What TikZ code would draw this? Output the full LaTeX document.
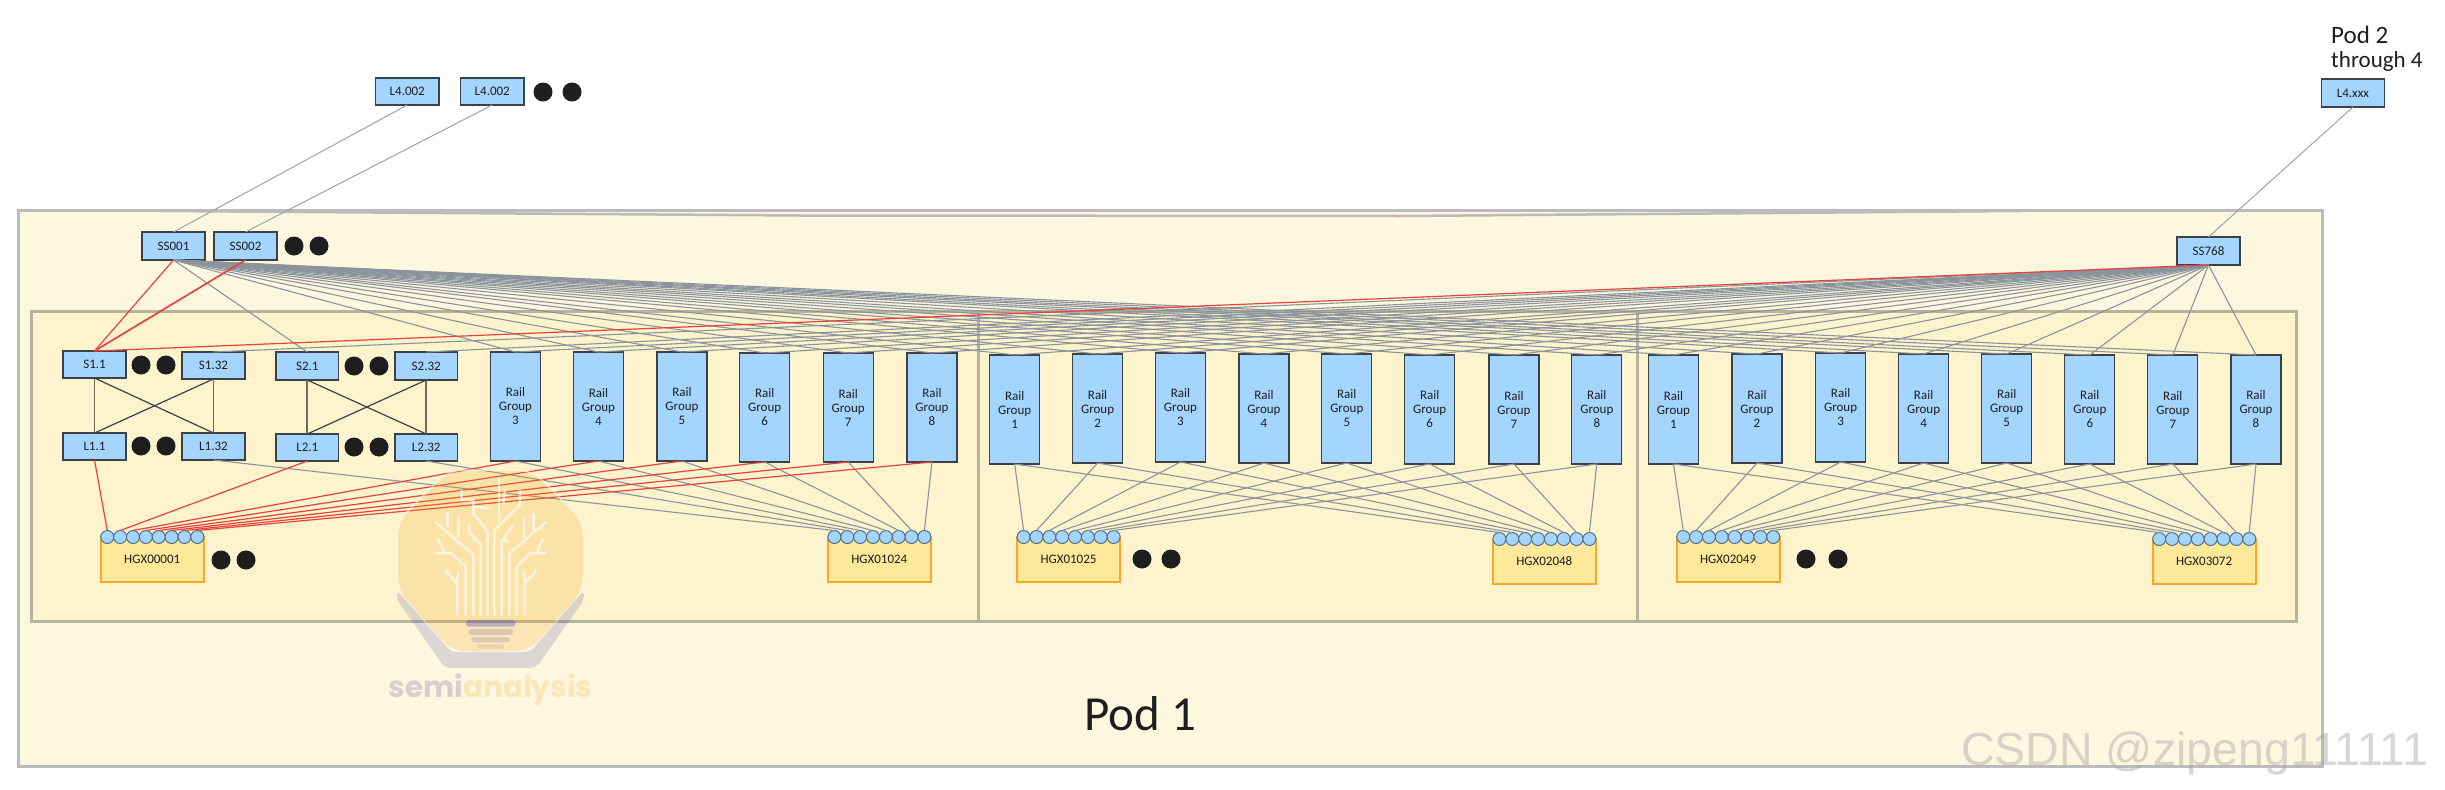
\documentclass[tikz,border=0pt]{standalone}
\usepackage{fontspec}
\setmainfont{Carlito}
\newfontfamily\logofont{Poppins}
\newfontfamily\markfont{Liberation Sans}
\definecolor{outerfill}{HTML}{FEF7DF}
\definecolor{outerline}{HTML}{BBBBBB}
\definecolor{innerfill}{HTML}{FDF3CC}
\definecolor{innerline}{HTML}{B7B29C}
\definecolor{nodeblue}{HTML}{A3D5FF}
\definecolor{nodeline}{HTML}{3A4248}
\definecolor{gpuyellow}{HTML}{FEE899}
\definecolor{gpuline}{HTML}{F9A62B}
\definecolor{wiregrey}{HTML}{8B949C}
\definecolor{wirered}{HTML}{E8423F}
\definecolor{ink}{HTML}{1E1E1E}
\definecolor{linkbrown}{HTML}{6E6A5C}
\definecolor{portline}{HTML}{52708A}
\definecolor{logoorange}{HTML}{F5A623}
\tikzset{
  podbox/.style={draw=outerline,fill=outerfill,line width=3pt},
  planebox/.style={draw=innerline,fill=innerfill,line width=3pt},
  bluebox/.style={draw=nodeline,fill=nodeblue,line width=1.2pt,inner sep=0pt,outer sep=0pt,text=ink,font=\fontsize{13}{14}\selectfont,align=center},
  railbox/.style={bluebox,minimum width=50pt,minimum height=109pt,anchor=north west},
  gpubox/.style={draw=gpuline,fill=gpuyellow,line width=2pt,inner sep=0pt,outer sep=0pt,minimum width=103pt,minimum height=45pt,anchor=north west,text=ink,font=\fontsize{13}{14}\selectfont},
  portdot/.style={circle,draw=portline,fill=nodeblue,line width=1pt,minimum size=13pt,inner sep=0pt,outer sep=0pt},
  blackdot/.style={circle,fill=ink,minimum size=19pt,inner sep=0pt},
  greywire/.style={draw=wiregrey,line width=1.1pt},
  uplink/.style={draw=wiregrey!85!white,line width=1pt},
  redwire/.style={draw=wirered,line width=1.2pt},
  crosswire/.style={draw=nodeline,line width=1.2pt},
  sidewire/.style={draw=linkbrown,line width=1.8pt},
  hand/.style={text=ink,inner sep=0pt,align=left},
  treeline/.style={draw=white,line width=2.6pt,opacity=.62,line join=round},
}
\newcommand{\pbox}[6]{%
  \pgfmathsetmacro{\pcx}{(#2+#4)/2}\pgfmathsetmacro{\pcy}{(#3+#5)/2}%
  \pgfmathsetmacro{\pw}{#4-#2}\pgfmathsetmacro{\ph}{#5-#3}%
  \node[bluebox,minimum width=\pw pt,minimum height=\ph pt] (#1) at (\pcx,\pcy) {#6};}
\newcommand{\hgx}[4]{%
  \node[gpubox] (#1) at (#2,#3) {#4};
  \foreach \pk in {1,...,8}{
    \pgfmathsetmacro{\ppx}{#2+6.6+12.86*(\pk-1)}
    \node[portdot] (#1c\pk) at (\ppx,#3) {};
  }}
\begin{document}
\begin{tikzpicture}[x=1pt,y=-1pt]
\useasboundingbox (0,0) rectangle (2445,790);
\fill[white] (0,0) rectangle (2445,790);
% pod and planes
\draw[podbox] (18,210) rectangle (2322,766);
\draw[outerline,line width=2.5pt] (160,211) -- (800,215.5) -- (1400,216) -- (2020,211);
\draw[planebox] (31,311) rectangle (978,621);
\draw[planebox] (978,311) rectangle (1637,621);
\draw[planebox] (1637,311) rectangle (2296,621);
% top nodes
\pbox{Lfa}{375.5}{78}{439}{105}{L4.002}
\pbox{Lfb}{460.5}{78}{524}{105}{L4.002}
\pbox{Lfx}{2321.5}{79}{2384.5}{107}{L4.xxx}
\pbox{SSa}{142}{232}{205}{260}{SS001}
\pbox{SSb}{214}{232}{277}{260}{SS002}
\pbox{SSz}{2177}{237}{2240}{265}{SS768}
% leaf / spine
\pbox{Sa}{63}{351}{126}{378}{S1.1}
\pbox{Sb}{182}{352}{245}{379}{S1.32}
\pbox{Sc}{276}{352}{338.5}{380}{S2.1}
\pbox{Sd}{395}{352}{457.5}{380}{S2.32}
\pbox{La}{63}{433}{126}{460}{L1.1}
\pbox{Lb}{182}{433}{245}{460}{L1.32}
\pbox{Lc}{276}{434}{338.5}{461}{L2.1}
\pbox{Ld}{395}{434}{457.5}{461}{L2.32}
% rail groups
\foreach \rn/\rx/\ry in {3/490.5/352,4/573.5/352,5/657/352,6/739.7/353,7/823.2/353,8/907/353}
  \node[railbox] (ar\rn) at (\rx,\ry) {Rail\\Group\\\rn};
\foreach \rn/\rx/\ry in {1/989.7/355,2/1072.6/354,3/1155.5/353,4/1239/354,5/1321.8/354,6/1404.7/355,7/1489/355,8/1571.8/355}
  \node[railbox] (br\rn) at (\rx,\ry) {Rail\\Group\\\rn};
\foreach \rn/\rx/\ry in {1/1648.5/355,2/1732/354,3/1815.6/353,4/1898.6/354,5/1981.7/354,6/2064.8/355,7/2147.8/355,8/2231/355}
  \node[railbox] (cr\rn) at (\rx,\ry) {Rail\\Group\\\rn};
% HGX
\hgx{ha}{100.7}{537}{HGX00001}
\hgx{hb}{827.8}{537}{HGX01024}
\hgx{hc}{1017}{537}{HGX01025}
\hgx{hd}{1492.8}{539}{HGX02048}
\hgx{he}{1676.6}{537}{HGX02049}
\hgx{hf}{2152.6}{539}{HGX03072}
% black dots
\foreach \dn/\dx/\dy in {a/543/92,b/572/92,c/294/246,d/319/246,e/141/365,f/166/365,g/354/366,h/379/366,i/141/446,j/166/446,k/354/447,l/379/447,m/221/560,n/246/560,o/1142/559,p/1171/559,q/1806/559,r/1838/559}
  \node[blackdot] (dot\dn) at (\dx,\dy) {};
% uplinks
\draw[uplink] (SSa.north) -- (Lfa.south);
\draw[uplink] (SSb.north) -- (Lfb.south);
\draw[uplink] (SSz.north) -- (Lfx.south);
% spine to leaf
\draw[sidewire] (Sa.south) -- (La.north);
\draw[sidewire] (Sb.south) -- (Lb.north);
\draw[sidewire] (Sc.south) -- (Lc.north);
\draw[sidewire] (Sd.south) -- (Ld.north);
\draw[crosswire] (Sa.south) -- (Lb.north);
\draw[crosswire] (Sb.south) -- (La.north);
\draw[crosswire] (Sc.south) -- (Ld.north);
\draw[crosswire] (Sd.south) -- (Lc.north);
% SS fan-out, grey
\draw[greywire] (SSa.south) -- (Sc.north);
\draw[greywire] (SSz.south) -- (Sb.north);
\draw[greywire] (SSz.south) -- (Sd.north);
\foreach \rg in {ar3,ar4,ar5,ar6,ar7,ar8,br1,br2,br3,br4,br5,br6,br7,br8,cr1,cr2,cr3,cr4,cr5,cr6,cr7,cr8}{
  \draw[greywire] (SSa.south) -- (\rg.north);
  \draw[greywire] (SSz.south) -- (\rg.north);
}
% rails to HGX, grey
\draw[greywire] (Lb.south) -- (hbc1.north);
\draw[greywire] (Ld.south) -- (hbc2.north);
\foreach \k in {3,...,8} \draw[greywire] (ar\k.south) -- (hbc\k.north);
\foreach \k in {1,...,8}{
  \draw[greywire] (br\k.south) -- (hcc\k.north);
  \draw[greywire] (br\k.south) -- (hdc\k.north);
  \draw[greywire] (cr\k.south) -- (hec\k.north);
  \draw[greywire] (cr\k.south) -- (hfc\k.north);
}
% red path
\draw[redwire] (SSa.south) -- (Sa.north);
\draw[redwire,line width=1.7pt] (SSb.south) -- (Sa.north);
\draw[redwire] (SSz.south) -- (Sa.north);
\draw[redwire] (La.south) -- (hac1.north);
\draw[redwire] (Lc.south) -- (hac2.north);
\foreach \k in {3,...,8} \draw[redwire] (ar\k.south) -- (hac\k.north);
% texts
\node[hand,anchor=west,font=\fontsize{25}{26}\selectfont] (podtwo) at (2331,35) {Pod 2};
\node[hand,anchor=west,font=\fontsize{23}{24}\selectfont] (podthru) at (2331,61) {through 4};
\node[hand,font=\fontsize{49}{50}\selectfont] (podone) at (1140,714) {Pod 1};
% logo watermark
\fill[fill=logoorange,opacity=.22,rounded corners=14pt] (449,470) -- (532,470) -- (584,522) -- (584,590) -- (530,652) -- (451,652) -- (397,590) -- (397,522) -- cycle;
\draw[white,opacity=.55,line width=1.5pt,rounded corners=14pt] (449,470) -- (532,470) -- (584,522) -- (584,590) -- (530,652) -- (451,652) -- (397,590) -- (397,522) -- cycle;
\fill[fill=blue!35!gray,opacity=.2,rounded corners=6pt] (397,590) -- (397,600) -- (445,668) -- (536,668) -- (584,600) -- (584,590) -- (530,652) -- (451,652) -- cycle;
\begin{scope}[shift={(300,470)},x=0.3333pt,y=-0.3333pt]
  \foreach \tp in {
    {(472,437) -- (472,340) -- (435,300)},{(472,335) -- (475,305)},
    {(497,437) -- (497,290) -- (455,250) -- (405,250)},{(435,250) -- (412,205)},
    {(520,437) -- (520,255) -- (405,155)},{(442,172) -- (442,125)},{(475,205) -- (475,140)},
    {(542,437) -- (542,222) -- (507,185) -- (507,160)},{(525,205) -- (518,215)},
    {(563,437) -- (563,185) -- (520,130) -- (520,90) -- (485,90) -- (485,60)},{(520,110) -- (568,115)},
    {(583,437) -- (583,180) -- (660,105) -- (660,60)},{(597,160) -- (597,20)},{(610,100) -- (615,60)},
    {(605,437) -- (605,215) -- (640,165)},{(612,205) -- (625,218)},
    {(628,437) -- (628,250) -- (740,155)},{(672,205) -- (672,140)},{(700,180) -- (700,130)},
    {(650,437) -- (650,290) -- (690,250) -- (740,250)},{(710,250) -- (730,205)},
    {(675,437) -- (675,340) -- (710,300)},{(675,335) -- (670,305)}}
    \expandafter\draw\expandafter[\expandafter t\expandafter r\expandafter e\expandafter e\expandafter l\expandafter i\expandafter n\expandafter e\expandafter]\tp;
  \fill[blue!60!gray,opacity=.3,rounded corners=3pt] (497,450) rectangle (647,470);
  \fill[blue!35!gray,opacity=.2,rounded corners=3pt] (505,477) rectangle (639,495);
  \fill[blue!35!gray,opacity=.18,rounded corners=2pt] (514,502) rectangle (630,517);
  \fill[blue!35!gray,opacity=.13,rounded corners=2pt] (532,523) rectangle (612,536);
\end{scope}
\node[inner sep=0pt,anchor=base,font=\logofont\bfseries\fontsize{29.5}{32}\selectfont] (logotext) at (490.5,697)
  {\textcolor{blue!25!gray!26!outerfill}{semi}\textcolor{logoorange!22!outerfill}{analysis}};
% CSDN watermark
\node[inner sep=0pt,anchor=base west,font=\markfont\fontsize{46.5}{48}\selectfont,text=gray!70,text opacity=.45] (csdn) at (1961,765) {CSDN @zipeng111111};
\end{tikzpicture}
\end{document}
